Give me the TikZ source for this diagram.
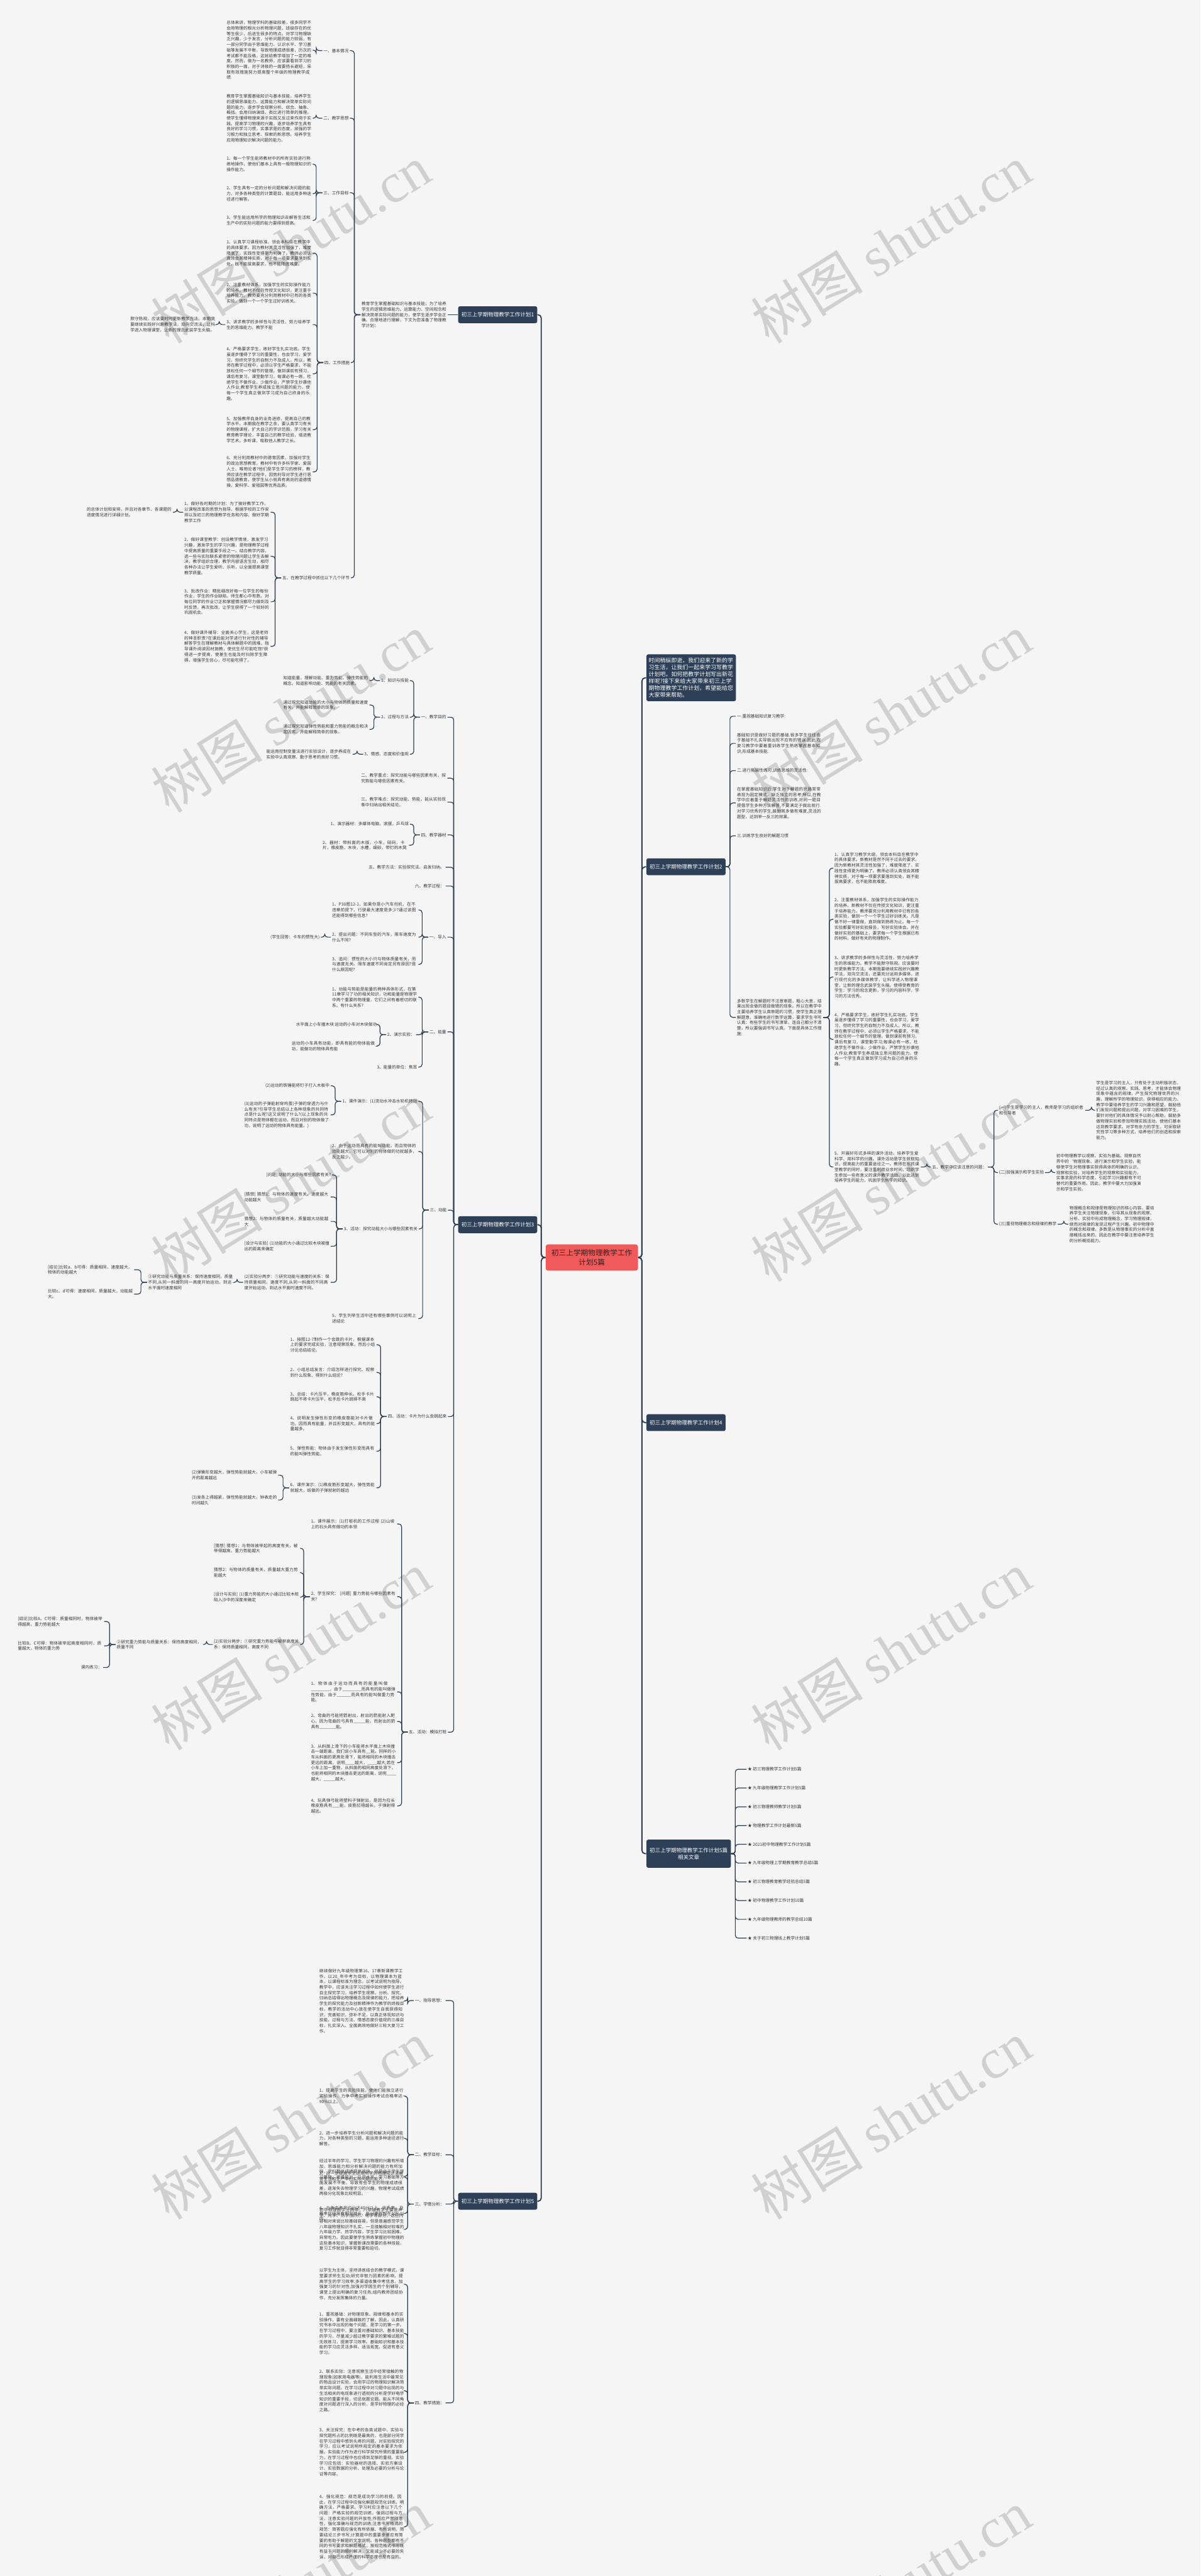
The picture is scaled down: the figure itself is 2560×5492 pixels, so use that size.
\documentclass[tikz,border=0pt]{standalone}
\usepackage{fontspec}
\setmainfont{Noto Sans CJK SC}
\newfontfamily\wmlatin{Liberation Serif}
\XeTeXlinebreaklocale "zh"
\XeTeXlinebreakskip=0pt plus 1pt
\definecolor{bgcol}{RGB}{245,245,245}
\definecolor{linecol}{RGB}{44,62,80}
\definecolor{boxcol}{RGB}{46,64,87}
\definecolor{rootcol}{RGB}{240,90,90}
\definecolor{txtcol}{RGB}{55,55,55}
\definecolor{wmcol}{RGB}{208,208,208}
\newcommand{\ftxt}{\fontsize{5.1pt}{6.65pt}\selectfont}
\newcommand{\ftopic}{\fontsize{6.5pt}{8pt}\selectfont}
\newcommand{\fintro}{\fontsize{6.8pt}{8.5pt}\selectfont}
\newcommand{\froot}{\fontsize{8.9pt}{11.4pt}\selectfont}
\newcommand{\fwm}{\fontsize{68pt}{68pt}\selectfont}
\tikzset{
  rootbox/.style={fill=rootcol, rounded corners=0.1cm, text={rgb,255:red,60;green,30;blue,30}, font=\froot, align=center, minimum width=3.94cm, minimum height=1.12cm, inner sep=0pt},
  topicbox/.style={fill=boxcol, rounded corners=0.08cm, text=white, font=\ftopic, minimum height=0.72cm, inner xsep=0.14cm, inner ysep=0pt},
  introbox/.style={fill=boxcol, rounded corners=0.08cm, text=white, font=\fintro, text width=3.62cm, align=left, inner xsep=0.1cm, inner ysep=0.14cm},
  para/.style={text width=3.63cm, align=left, font=\ftxt, text=txtcol, inner sep=0pt, outer sep=0.05cm},
  lbl/.style={font=\ftxt, text=txtcol, inner sep=0pt, outer sep=0.05cm},
  mainlink/.style={draw=linecol, line width=0.05cm, rounded corners=0.14cm},
  link/.style={draw=linecol, line width=0.032cm, rounded corners=0.12cm},
  wm/.style={font=\fwm, text=wmcol, rotate=32}
}
\begin{document}
\begin{tikzpicture}[x=0.02cm,y=-0.02cm]
\useasboundingbox (0,0) rectangle (2560,5492);
\fill[bgcol] (0,0) rectangle (2560,5492);
% watermarks
\foreach \y in {520,1520,2520,3520,4520,5520}{
  \node[wm] (wmL\y) at (620,\y) {树图 {\wmlatin shutu.cn}};
  \node[wm] (wmR\y) at (1900,\y) {树图 {\wmlatin shutu.cn}};
}
% root
\node[rootbox] (root) at (1262,2681) {初三上学期物理教学工作\\计划5篇};
% main topics
\node[topicbox, anchor=east] (p1) at (1146,671) {初三上学期物理教学工作计划1};
\node[topicbox, anchor=east] (p3) at (1146,2611) {初三上学期物理教学工作计划3};
\node[topicbox, anchor=east] (p5) at (1146,4693) {初三上学期物理教学工作计划5};
\node[introbox, anchor=west] (intro) at (1378,1445) {时间稍纵即逝，我们迎来了新的学习生活，让我们一起来学习写教学计划吧。如何把教学计划写出新花样呢?接下来给大家带来初三上学期物理教学工作计划，希望能给您大家带来帮助。};
\node[topicbox, anchor=west] (p2) at (1378,1848) {初三上学期物理教学工作计划2};
\node[topicbox, anchor=west] (p4) at (1378,3033) {初三上学期物理教学工作计划4};
\node[topicbox, anchor=west, align=center, minimum height=1.2cm] (rel) at (1378,3952) {初三上学期物理教学工作计划5篇\\相关文章};

% plan 1
\node[para, anchor=east] (p1i) at (955,671) {教育学生掌握基础知识与基本技能，为了培养学生的逻辑思维能力、运算能力、空间观念和解决简单实际问题的能力，使学生逐步学会正确、合理地进行理解，下文为您准备了物理教学计划：};
\node[lbl, anchor=east] (p1a) at (746,108) {一、基本情况};
\node[para, anchor=east] (p1a1) at (667,107) {总体来讲，物理学科的基础较差，很多同学不会用物理的眼光分析物理问题，班级存在的优等生很少，后进生很多的特点。对学习物理缺乏兴趣，少于发言，分析问题的能力较弱，有一部分同学由于思维能力、认识水平、学习基础等发展不平衡，导致物理成绩很差，历次的考试都不能及格，这就给教学增加了一定的难度。然而，做为一名教师，应该要看到学习的积极的一面，对于消极的一面要扬长避短，采取有效措施努力提高整个年级的物理教学成绩.};
\node[lbl, anchor=east] (p1b) at (746,252) {二、教学思想};
\node[para, anchor=east] (p1b1) at (667,252) {教育学生掌握基础知识与基本技能，培养学生的逻辑思维能力、运算能力和解决简单实际问题的能力，逐步学会观察分析、综合、抽象、概括。会用归纳演绎、类比进行简单的推理。使学生懂得物理来源于实践又反过来作用于实践。提高学习物理的兴趣，逐步培养学生具有良好的学习习惯，实事求是的态度，顽强的学习毅力和独立思考、探索的新思想。培养学生应用物理知识解决问题的能力。};
\node[lbl, anchor=east] (p1c) at (746,411) {三、工作目标};
\node[para, anchor=east] (p1c1) at (667,350) {1、每一个学生能将教材中的所有实验进行熟练地操作，使他们基本上具有一般物理知识的操作能力。};
\node[para, anchor=east] (p1c2) at (667,413) {2、学生具有一定的分析问题和解决问题的能力，对多各种类型的计算题目，能运用多种途径进行解答。};
\node[para, anchor=east] (p1c3) at (667,470) {3、学生能运用所学的物理知识去解答生活和生产中的实际问题的能力要得到提高。};
\node[lbl, anchor=east] (p1d) at (748,773) {四、工作措施};
\node[para, anchor=east] (p1d1) at (667,540) {1、认真学习课程标准，领会本科目在教学中的具体要求。因为教材其灵活性加强了，难度降底了，实践性变得更为明确了。教师必须认真领会其精神实质，对于每一项要求要落到实处，既不能拔高要求，也不能降底难度。};
\node[para, anchor=east] (p1d2) at (667,625) {2、注重教材体系，加强学生的实际操作能力的培养。教材不仅在传授文化知识，更注重于培养能力。教师要充分利用教材中已有的各类实验，做到一个一个学生过好训练关。};
\node[para, anchor=east] (p1d3) at (667,692) {3、讲求教学的多样性与灵活性，努力培养学生的思维能力。教学不能};
\node[para, anchor=east] (p1d3x) at (462,692) {默守陈规，应该要时时更新教学方法。本期我要继续实践好兴趣教学法，双向交流法，让科学进入物理课堂，让新的理念武装学生头脑。};
\node[para, anchor=east] (p1d4) at (667,797) {4、严格要求学生，练好学生扎实功底。学生虽逐步懂得了学习的重要性，也会学习，爱学习，但终究学生的自制力不及成人。所以，教师在教学过程中，必须以学生严格要求，不能放松任何一个细节的管理。做到课前有预习，课后有复习，课堂勤学习，每课必有一练，杜绝学生不做作业、少做作业，严禁学生抄袭他人作业;教育学生养成独立思问题的能力，使每一个学生真正做到学习成为自己终身的乐趣。};
\node[para, anchor=east] (p1d5) at (667,916) {5、加强教师自身的业务进修，提高自己的教学水平。本期我在教学之余，要认真学习有关的物理课程，扩大自己的学识范围，学习有关教育教学理论，丰富自己的教学经验，增进教学艺术。多听课，吸取他人教学之长。};
\node[para, anchor=east] (p1d6) at (667,1006) {6、充分利用教材中的德育因素，加强对学生的政治思想教育。教材中有许多科学家、爱国人士、唯物论者?他们是学生学习的榜样，教师应该在教学过程中，因势利导对学生进行思想品德教育，使学生从小就具有高尚的道德情操，爱科学、爱祖国等优秀品质。};
\node[lbl, anchor=east] (p1e) at (748,1232) {五、在教学过程中抓住以下几个环节};
\node[para, anchor=east] (p1e1) at (577,1092) {1、做好各时期的计划：为了搞好教学工作，以课程改革的思想为指导，根据学校的工作安排以及初三的物理教学任务和内容，做好学期教学工作};
\node[para, anchor=east] (p1e1x) at (369,1092) {的总体计划和安排，并且对各章节、各课题的进度情况进行详细计划。};
\node[para, anchor=east] (p1e2) at (577,1186) {2、做好课堂教学：创设教学情境，激发学习兴趣，激发学生的学习兴趣，是物理教学过程中提高质量的重要手段之一。结合教学内容，选一些与实际联系紧密的物理问题让学生去解决，教学组织合理，教学内容语言生动，相尽各种办法让学生爱听、乐听，以全面提高课堂教学质量。};
\node[para, anchor=east] (p1e3) at (577,1283) {3、批改作业：精批细改好每一位学生的每份作业，学生的作业缺陷，师生都心中有数。对每位同学的作业订正和掌握情况都尽力做到及时反馈，再次批改，让学生获得了一个较好的巩固机会。};
\node[para, anchor=east] (p1e4) at (577,1378) {4、做好课外辅导：全面关心学生，这是老师的神圣职责?在课后能对学进行针对性的辅导解答学生在理解教材与具体解题中的困难，指导课外阅读因材施教，使优生尽可能吃饱?获得进一步提高，使差生也能及时扫除学生障碍，增强学生信心，尽可能吃得了。};

% plan 3
\node[lbl, anchor=east] (p3a) at (954,1529) {一、教学目的};
\node[lbl, anchor=east] (p3a1) at (874,1451) {1、知识与技能};
\node[para, anchor=east] (p3a1x) at (788,1451) {知道能量，理解动能、重力势能、弹性势能的概念。知道影响动能、势能的有关因素。};
\node[lbl, anchor=east] (p3a2) at (874,1529) {2、过程与方法};
\node[para, anchor=east] (p3a2x) at (788,1503) {通过探究知道动能的大小与物体的质量和速度有关，并能解释简单的现象。};
\node[para, anchor=east] (p3a2y) at (788,1555) {通过探究知道弹性势能和重力势能的概念和决定因素，并能解释简单的现象。};
\node[lbl, anchor=east] (p3a3) at (874,1608) {3、情感、态度和价值观};
\node[para, anchor=east] (p3a3x) at (752,1608) {能运用控制变量法进行实验设计，逐步养成在实验中认真观察、勤于思考的良好习惯。};
\node[para, anchor=east] (p3b) at (954,1659) {二、教学重点：探究动能与哪些因素有关，探究势能与哪些因素有关。};
\node[para, anchor=east] (p3c) at (954,1710) {三、教学难点：探究动能、势能，能从实验现象中归纳出相关结论。};
\node[lbl, anchor=east] (p3d) at (954,1780) {四、教学器材};
\node[lbl, anchor=east] (p3d1) at (874,1757) {1、演示器材：多媒体电脑，滚摆，乒乓球};
\node[para, anchor=east] (p3d2) at (872,1802) {2、器材：带斜面的木版，小车，砝码，卡片，橡皮筋，木块，水槽，细砂，带钉的木凳};
\node[lbl, anchor=east] (p3e) at (950,1849) {五、教学方法：实验探究法、启发归纳。};
\node[lbl, anchor=east] (p3f) at (950,1889) {六、教学过程：};
\node[lbl, anchor=east] (p3g) at (954,1998) {一、导入};
\node[para, anchor=east] (p3g1) at (892,1940) {1、P30图12-1，如果你是小汽车司机，在不违章前提下，行驶最大速度是多少?通过该图还能得到哪些信息?};
\node[para, anchor=east] (p3g2) at (892,1998) {2、提出问题：不同车型的汽车，限车速度为什么不同?};
\node[lbl, anchor=east] (p3g2x) at (684,1998) {(学生回答：卡车的惯性大)};
\node[para, anchor=east] (p3g3) at (892,2056) {3、追问：惯性的大小只与物体质量有关，而与速度无关。限车速度不同肯定另有原因?是什么原因呢?};
\node[lbl, anchor=east] (p3h) at (954,2200) {二、能量};
\node[para, anchor=east] (p3h1) at (892,2126) {1、动能与势能是能量的两种具体形式，在第11章学习了功的相关知识，功和能量是物理学中两个重要的物理量，它们之间有着密切的联系。有什么关系?};
\node[lbl, anchor=east] (p3h2) at (887,2206) {2、演示实验：};
\node[lbl, anchor=east] (p3h2a) at (806,2184) {水平面上小车撞木块 运动的小车对木块做功};
\node[para, anchor=east] (p3h2b) at (806,2230) {运动的小车具有动能，即具有能的物体能做功，能做功的物体具有能};
\node[lbl, anchor=east] (p3h3) at (892,2275) {3、能量的单位：焦耳};
\node[lbl, anchor=east] (p3i) at (955,2580) {三、动能};
\node[lbl, anchor=east] (p3i1) at (892,2348) {1、课件演示：(1)流动水冲击水轮机转动};
\node[lbl, anchor=east] (p3i1a) at (705,2315) {(2)运动的铁锤能将钉子打入木板中};
\node[para, anchor=east] (p3i1b) at (705,2377) {(3)运动的子弹能射穿鸡蛋(子弹的穿透力与什么有关?引导学生总结以上各种现象的共同特点是什么呢?这又说明了什么?(以上现象的共同特点是物体都在运动，而且对别的物体做了功，说明了运动的物体具有能量。)};
\node[para, anchor=east] (p3i2) at (892,2455) {2、由于运动而具有的能叫动能，而且物体的动能越大，它可以对别的物体做的功就越多，反之越少。};
\node[lbl, anchor=east] (p3i3) at (893,2620) {3、活动：探究动能大小与哪些因素有关};
\node[lbl, anchor=east] (p3i3a) at (708,2505) {[问题] 动能的大小与哪些因素有关?};
\node[para, anchor=east] (p3i3b) at (705,2552) {[猜想] 猜想1：与物体的速度有关，速度越大动能越大};
\node[para, anchor=east] (p3i3c) at (705,2604) {猜想2：与物体的质量有关，质量越大动能越大};
\node[para, anchor=east] (p3i3d) at (705,2657) {[设计与实验] (1)动能的大小通过比较木块被撞出的距离来确定};
\node[para, anchor=east] (p3i3e) at (705,2734) {(2)实验分两步：①研究动能与速度的关系：保持质量相同，速度不同,从同一斜面的不同高度开始运动，到达水平面时速度不同。};
\node[para, anchor=east] (p3i3ex) at (500,2734) {②研究动能与质量关系：保持速度相同，质量不同,从同一斜面的同一高度开始运动，到达水平面时速度相同};
\node[para, anchor=east] (p3i3ey) at (286,2707) {[结论]比较a、b可得：质量相同，速度越大，物体的动能越大};
\node[para, anchor=east] (p3i3ez) at (286,2759) {比较c、d可得：速度相同，质量越大，动能越大。};
\node[para, anchor=east] (p3i5) at (892,2811) {5、学生列举生活中还有哪些事例可以说明上述结论};
\node[lbl, anchor=east] (p3j) at (955,3020) {四、活动：卡片为什么会跳起来};
\node[para, anchor=east] (p3j1) at (803,2867) {1、按图12-7制作一个会跳的卡片，根据课本上的要求完成实验，注意观察现象，然后小组讨论总结结论。};
\node[para, anchor=east] (p3j2) at (803,2926) {2、小组总结发言：介绍怎样进行探究、观察到什么现象、得到什么结论?};
\node[para, anchor=east] (p3j3) at (803,2978) {3、总结：卡片压平，橡皮筋伸长，松手卡片跳起不将卡片压平，松手后卡片跳得不高};
\node[para, anchor=east] (p3j4) at (803,3035) {4、说明发生弹性形变的橡皮筋能对卡片做功，因而具有能量，并且形变越大，具有的能量越多。};
\node[para, anchor=east] (p3j5) at (803,3094) {5、弹性势能：物体由于发生弹性形变而具有的能叫弹性势能。};
\node[para, anchor=east] (p3j6) at (803,3172) {6、课件演示：(1)橡皮筋形变越大，弹性势能就越大，纸做的子弹就射的越远};
\node[para, anchor=east] (p3j6a) at (593,3145) {(2)弹簧形变越大，弹性势能就越大，小车被弹开的距离越远};
\node[para, anchor=east] (p3j6b) at (593,3198) {(3)发条上得越紧，弹性势能就越大，钟表走的时间越久};
\node[lbl, anchor=east] (p3k) at (955,3693) {五、活动：模拟打桩};
\node[para, anchor=east] (p3k1) at (847,3249) {1、课件展示：(1)打桩机的工作过程 (2)山坡上的石头具有做功的本领};
\node[para, anchor=east] (p3k2) at (847,3404) {2、学生探究： [问题] 重力势能与哪些因素有关?};
\node[para, anchor=east] (p3k2a) at (640,3301) {[猜想] 猜想1：与物体被举起的高度有关，被举得越高，重力势能越大};
\node[para, anchor=east] (p3k2b) at (640,3353) {猜想2：与物体的质量有关，质量越大重力势能越大};
\node[para, anchor=east] (p3k2c) at (640,3405) {[设计与实验] (1)重力势能的大小通过比较木桩陷入沙中的深度来确定};
\node[para, anchor=east] (p3k2d) at (640,3506) {(2)实验分两步：①研究重力势能与被举高度关系：保持质量相同，高度不同};
\node[para, anchor=east] (p3k2dx) at (433,3506) {②研究重力势能与质量关系：保持高度相同，质量不同};
\node[para, anchor=east] (p3k2dy) at (222,3457) {[结论]比较A、C可得：质量相同时，物体被举得越高，重力势能越大};
\node[para, anchor=east] (p3k2dz) at (222,3509) {比较B、C可得：物体被举起高度相同时，质量越大，物体的重力势};
\node[lbl, anchor=east] (p3k2dw) at (220,3555) {课内练习：};
\node[para, anchor=east] (p3k3) at (847,3607) {1、物体由于运动而具有的能量叫做\_\_\_\_\_\_\_\_，由于\_\_\_\_\_\_\_\_而具有的能叫做弹性势能，由于\_\_\_\_\_\_而具有的能叫做重力势能。};
\node[para, anchor=east] (p3k4) at (847,3670) {2、弯曲的弓能把箭射出，射出的箭能射入靶心，因为弯曲的弓具有\_\_\_\_\_能，而射出的箭具有\_\_\_\_\_\_\_能。};
\node[para, anchor=east] (p3k5) at (847,3758) {3、从斜面上滑下的小车能将水平面上木块撞击一端距离，我们说小车具有\_\_能。同样的小车从斜面的更高处滑下，能将相同的木块撞击更远的距离，说明\_\_\_\_越大，\_\_\_\_越大;若在小车上加一重物，从斜面的相同高度处滑下，也能将相同的木块撞击更远的距离，说明\_\_\_\_越大，\_\_\_\_\_越大。};
\node[para, anchor=east] (p3k6) at (847,3850) {4、玩具弹弓能将塑料子弹射出，是因为拉长橡皮筋具有\_\_\_能，皮筋拉得越长，子弹射得越远。};

% plan 5
\node[lbl, anchor=east] (p5a) at (950,4265) {一、指导思想：};
\node[para, anchor=east] (p5a1) at (865,4266) {继续做好九年级物理第16、17章新课教学工作，以20\_年中考为目标，以物理课本为蓝本，以课程标准为理念，以考试说明为指导。教学中，应该关注学习过程中如何使学生进行自主探究学习，培养学生观察、分析、探究、归纳总结得出物理概念及规律的能力，把培养学生的探究能力及创新精神作为教学的终极目标，教学的活动中心放在使学生自我获得知识，完善知识，弥补不足，以真正体现知识与技能、过程与方法、情感态度价值观的三维目标，扎实深入、全面高效地做好三轮大复习工作。};
\node[lbl, anchor=east] (p5b) at (950,4594) {二、教学目标：};
\node[para, anchor=east] (p5b1) at (865,4469) {1、提高学生的实验技能，使他们能独立进行实验操作，力争中考实验操作考试合格率达90\%以上。};
\node[para, anchor=east] (p5b2) at (865,4559) {2、进一步培养学生分析问题和解决问题的能力，对各种类型的习题，能运用多种途径进行解答。};
\node[para, anchor=east] (p5b3) at (865,4640) {3、进一步提高学生运用所学的物理知识去解答生活和生产中的实际问题的能力。};
\node[para, anchor=east] (p5b4) at (865,4719) {4、力争中考平均分达40分以上，优秀率、及格率比往届有明显增长，低分率控制在10\%以内。};
\node[lbl, anchor=east] (p5c) at (950,4699) {三、学情分析：};
\node[para, anchor=east] (p5c1) at (865,4642) {经过半年的学习，学生学习物理的兴趣有所增加，思维能力和分析解决问题的能力有所加强，学科整体成绩提高很快，但是由于学生学习基础、思维能力、认识水平、学习基础等方面发展不平衡，导致有些学生的物理成绩很差，逐渐失去物理学习的兴趣，物理考试成绩两极分化现象比较明显。};
\node[para, anchor=east] (p5c2) at (865,4753) {初中物理教学分两年，八年级教学主要是声学、光学、热学(部分)、电学等部分，这些内容相对来说比较基础容易，但是普遍感觉学生八年级物理知识不扎实，一旦接触相对较难的九年级力学、热学内容，学生学习比较困难，异常吃力。因此要使学生熟练掌握初中物理的这些基本知识，掌握新课改需要的各种技能，复习工作就显得非常重要和迫切。};
\node[lbl, anchor=east] (p5d) at (950,5123) {四、教学措施：};
\node[para, anchor=east] (p5d0) at (865,4870) {以学生为主体，坚持讲练结合的教学模式，课堂要求师生互动;研究非智力因素的影响，提高学生的学习效率;多渠道收集中考信息，加强复习的针对性;加强对学困生的个别辅导，课堂上提出明确的复习任务;组内教师团结协作，充分发挥集体的力量。};
\node[para, anchor=east] (p5d1) at (865,4975) {1、重视基础：对物理现象、规律和基本的实验操作，要有全面细致的了解。因此，认真研究书本中出现的每个问题，是学习的第一步。在学习过程中，要注重对基础知识、基本技能的学习，尽量减少超过教学要求的繁难试题的无效练习，提高学习效率。基础知识和基本技能的学习应灵活多样、适当拓宽，促进有意义学习。};
\node[para, anchor=east] (p5d2) at (865,5097) {2、联系实际：注意观察生活中经常接触的物理现象(如家用电器等)，能利用生活中最常见的物品设计实验，会用学过的物理知识解决简单实际问题。在学习过程中对习题中出现的与生活相关的电现象进行透彻的分析是学好电学知识的重要手段，切忌就题论题。能从不同角度对问题进行深入的分析，是学好物理的必经之路。};
\node[para, anchor=east] (p5d3) at (865,5228) {3、关注探究：在中考的各类试题中，实验与探究题所占的比例既是最高的，也是部分同学在学习过程中感到头疼的问题。对实验探究的学习，应以考试说明所规定的基本要求为依据。实验能力作为进行科学探究所需的重要能力，在学习过程中也应得到足够的重视。实验学习应包括：实验器材的选择、实验方案设计、实验数据的分析、处理及必要的分析与论证等内容。};
\node[para, anchor=east] (p5d4) at (865,5387) {4、强化规范：规范是成功学习的前提。因此，在学习过程中应强化解题规范化训练，明确方法，严格要求。学习时应注意以下几个问题：严格实验的规范训练，强调过程与方法，注意实验问题的开放性;作图应严禁随意性，强化准确与规范的训练;注意书写格式的规范：简答题应强化有所依据、有所说明，简要结论三步书写;计算题中的重要步骤应有简要的有助于解题的文字说明。各种题型都有不同的书写要求和解题格式，按规范格式书写既有益于问题的顺利解决，又能减少不必要的失误，对自己形成严谨的科学态度也是有益的。};

% plan 2
\node[lbl, anchor=west] (p2a) at (1569,1527) {一.重视基础知识复习教学:};
\node[para, anchor=west] (p2a1) at (1569,1585) {基础知识是做好习题的基础.很多学生往往由于基础不扎实导致出现不应有的错误.因此.在复习教学中要着重训练学生熟练掌握基本知识,形成基本技能.};
\node[lbl, anchor=west] (p2b) at (1569,1643) {二.进行拓展性练习,训练思维的灵活性:};
\node[para, anchor=west] (p2b1) at (1569,1712) {在掌握基础知识后,学生对于解题的思路常常表现为固定模式，缺乏独立的思考,所以,在教学中应着重于解题灵活性的训练,对同一题目提倡学生多种方法解答,不要满足于做出就行.对学习优秀的学生,鼓励其多做有难度,灵活的题型，达到举一反三的效果。};
\node[lbl, anchor=west] (p2c) at (1569,1782) {三.训练学生良好的解题习惯};
\node[para, anchor=west] (p2d) at (1569,2169) {多数学生在解题时不注意审题，粗心大意，结果出现会做的题目做错的现象。所以在教学中主要培养学生认真审题的习惯，使学生真正理解题意，准确地进行数学运算，要求学生书写认真：有些学生的书写潦草，连自己都分不清楚，所以要强调书写认真。下面是具体工作措施:};
\node[para, anchor=west] (p2d1) at (1777,1851) {1、认真学习教学大纲，领会本科目在教学中的具体要求。新教材是然不同于过去的要求，因为新教材其灵活性加强了，难度降底了，实践性变得更为明确了。教师必须认真领会其精神实质，对于每一项要求要落到实处，既不能拔高要求，也不能降底难度。};
\node[para, anchor=west] (p2d2) at (1777,1960) {2、注重教材体系，加强学生的实际操作能力的培养。新教材不仅在传授文化知识，更注重于培养能力。教师要充分利用教材中已有的各类实验，做到一个一个学生过好训练关。凡是做不好一律重做，直到做到熟练为止。每一个实验都要写好实验报告，写好实验体会。并在做好实验的基础上，要求每一个学生根据已有的材料，做好有关的物理制作。};
\node[para, anchor=west] (p2d3) at (1777,2083) {3、讲求教学的多样性与灵活性，努力培养学生的思维能力。教学不能默守陈规，应该要时时更新教学方法。本期我要继续实践好兴趣教学法，双向交流法，还要充分运用多媒体，进行现代化的多媒体教学，让科学进入物理课堂，让新的理念武装学生头脑。使得受教育的学生：学习的观念更新，学习的内容科学，学习的方法优秀。};
\node[para, anchor=west] (p2d4) at (1777,2216) {4、严格要求学生，练好学生扎实功底。学生虽逐步懂得了学习的重要性，也会学习，爱学习，但终究学生的自制力不及成人。所以，教师在教学过程中，必须以学生严格要求，不能放松任何一个细节的管理。做到课前有预习，课后有复习，课堂勤学习;每课必有一练，杜绝学生不做作业、少做作业，严禁学生抄袭他人作业;教育学生养成独立思问题的能力，使每一个学生真正做到学习成为自己终身的乐趣。};
\node[para, anchor=west] (p2d5) at (1777,2488) {5、开展好形式多样的课外活动，培养学生爱科学、用科学的兴趣。课外活动是学生获取知识，提高能力的重要途径之一。教师在狠抓课堂教学的同时，要注重利用业余时间，组织学生参加一些有意义的课外教学活动。以此达到培养学生的能力，巩固学生所学的知识。};
\node[lbl, anchor=west] (p2e) at (1985,2488) {五、教学中应该注意的问题：};
\node[para, anchor=west] (p2e1) at (2128,2367) {(一)学生是学习的主人，教师是学习的组织者和引导者};
\node[para, anchor=west] (p2e1x) at (2335,2367) {学生是学习的主人，只有处于主动积极状态，经过认真的观察、实践、思考，才能体会物理现象中蕴含的规律，产生探究物理世界的兴趣，理解所学的物理知识，获得相应的能力。教学中要培养学生的学习兴趣和愿望，鼓励他们发现问题和提出问题，对学习困难的学生，要针对他们的具体情况予以耐心帮助，鼓励多做物理实验和参加物理实践活动，使他们基本达到教学要求。对学有余力的学生，可采取研究性学习等多种方式，培养他们的创造和探索能力。};
\node[lbl, anchor=west] (p2e2) at (2128,2500) {(二)加强演示和学生实验};
\node[para, anchor=west] (p2e2x) at (2250,2500) {初中物理教学以观察、实验为基础。观察自然界中的`物理现象、进行演示和学生实验，能够使学生对物理事实获得具体的明确的认识，观察和实验，对培养学生的观察和实验能力，实事求是的科学态度，引起学习兴趣都有不可替代的重要作用。因此，教学中要大力加强演示和学生实验。};
\node[lbl, anchor=west] (p2e3) at (2128,2610) {(三)重视物理概念和规律的教学};
\node[para, anchor=west] (p2e3x) at (2278,2610) {物理概念和规律是物理知识的核心内容。要培养学生关注物理现象，引导其从现象的观察、分析、实验中形成物理概念，学习物理规律，继而对规律的发现过程产生兴趣。初中物理中的概念和规律，多数是从物理事实的分析中直接概括出来的，因此在教学中要注意培养学生的分析概括能力。};

% related articles
\node[lbl, anchor=west] (rl1) at (1592,3772) {★ 初三物理教学工作计划5篇};
\node[lbl, anchor=west] (rl2) at (1592,3812) {★ 九年级物理教学工作计划5篇};
\node[lbl, anchor=west] (rl3) at (1592,3852) {★ 初三物理教师教学计划5篇};
\node[lbl, anchor=west] (rl4) at (1592,3892) {★ 物理教学工作计划最新5篇};
\node[lbl, anchor=west] (rl5) at (1592,3932) {★ 2021初中物理教学工作计划5篇};
\node[lbl, anchor=west] (rl6) at (1592,3972) {★ 九年级物理上学期教育教学总结5篇};
\node[lbl, anchor=west] (rl7) at (1592,4012) {★ 初三物理教育教学经验总结5篇};
\node[lbl, anchor=west] (rl8) at (1592,4052) {★ 初中物理教学工作计划10篇};
\node[lbl, anchor=west] (rl9) at (1592,4092) {★ 九年级物理教师的教学总结10篇};
\node[lbl, anchor=west] (rl10) at (1592,4132) {★ 关于初三物理线上教学计划5篇};

% connectors
\foreach \c in {p1,p3,p5} \draw[mainlink] (root.west) -- ++(-9,0) |- (\c.east);
\foreach \c in {intro,p2,p4,rel} \draw[mainlink] (root.east) -- ++(8,0) |- (\c.west);
\draw[link] (p1.west) -- (p1i.east);
\foreach \p/\c in {p1i/p1a,p1i/p1b,p1i/p1c,p1i/p1d,p1i/p1e,p1a/p1a1,p1b/p1b1,p1c/p1c1,p1c/p1c2,p1c/p1c3,
  p1d/p1d1,p1d/p1d2,p1d/p1d3,p1d/p1d4,p1d/p1d5,p1d/p1d6,p1d3/p1d3x,p1e/p1e1,p1e/p1e2,p1e/p1e3,p1e/p1e4,p1e1/p1e1x,
  p3a/p3a1,p3a/p3a2,p3a/p3a3,p3a1/p3a1x,p3a2/p3a2x,p3a2/p3a2y,p3a3/p3a3x,p3d/p3d1,p3d/p3d2,
  p3g/p3g1,p3g/p3g2,p3g/p3g3,p3g2/p3g2x,p3h/p3h1,p3h/p3h2,p3h/p3h3,p3h2/p3h2a,p3h2/p3h2b,
  p3i/p3i1,p3i/p3i2,p3i/p3i3,p3i/p3i5,p3i1/p3i1a,p3i1/p3i1b,p3i3/p3i3a,p3i3/p3i3b,p3i3/p3i3c,p3i3/p3i3d,p3i3/p3i3e,
  p3i3e/p3i3ex,p3i3ex/p3i3ey,p3i3ex/p3i3ez,p3j/p3j1,p3j/p3j2,p3j/p3j3,p3j/p3j4,p3j/p3j5,p3j/p3j6,p3j6/p3j6a,p3j6/p3j6b,
  p3k/p3k1,p3k/p3k2,p3k/p3k3,p3k/p3k4,p3k/p3k5,p3k/p3k6,p3k2/p3k2a,p3k2/p3k2b,p3k2/p3k2c,p3k2/p3k2d,p3k2d/p3k2dx,
  p3k2dx/p3k2dy,p3k2dx/p3k2dz,p3k2dx/p3k2dw,
  p5a/p5a1,p5b/p5b1,p5b/p5b2,p5b/p5b3,p5b/p5b4,p5c/p5c1,p5c/p5c2,p5d/p5d0,p5d/p5d1,p5d/p5d2,p5d/p5d3,p5d/p5d4}
  \draw[link] (\p.west) -- ++(-13,0) |- (\c.east);
\foreach \c in {p3a,p3b,p3c,p3d,p3e,p3f,p3g,p3h,p3i,p3j,p3k} \draw[link] (p3.west) -- ++(-9,0) |- (\c.east);
\foreach \c in {p5a,p5b,p5c,p5d} \draw[link] (p5.west) -- ++(-9,0) |- (\c.east);
\foreach \c in {p2a,p2a1,p2b,p2b1,p2c,p2d} \draw[link] (p2.east) -- ++(9,0) |- (\c.west);
\foreach \c in {rl1,rl2,rl3,rl4,rl5,rl6,rl7,rl8,rl9,rl10} \draw[link] (rel.east) -- ++(9,0) |- (\c.west);
\foreach \p/\c in {p2d/p2d1,p2d/p2d2,p2d/p2d3,p2d/p2d4,p2d/p2d5,p2d5/p2e,p2e/p2e1,p2e/p2e2,p2e/p2e3,p2e1/p2e1x,p2e2/p2e2x,p2e3/p2e3x}
  \draw[link] (\p.east) -- ++(13,0) |- (\c.west);
\end{tikzpicture}
\end{document}
